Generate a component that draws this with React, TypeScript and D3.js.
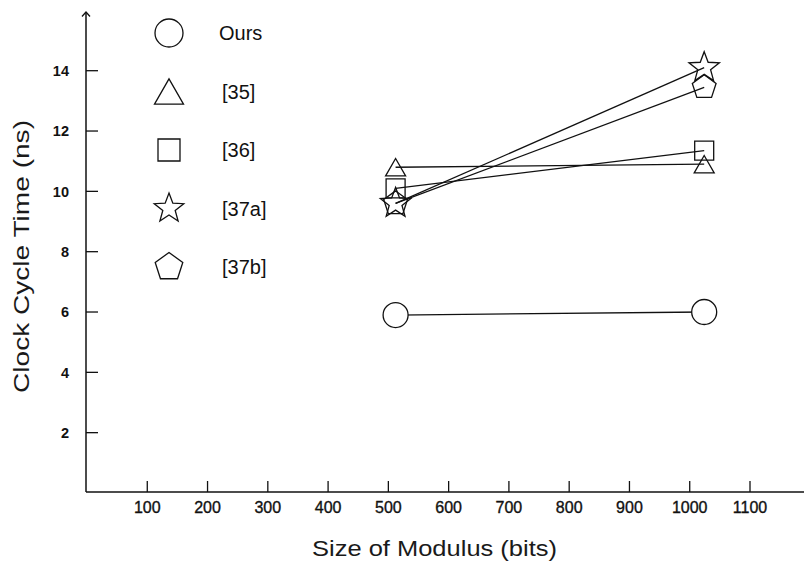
import * as d3 from "d3";
import { useEffect, useRef } from "react";

const xValues = [512, 1024];
const seriesNames = ["Ours", "[35]", "[36]", "[37a]", "[37b]"];
const oursValues = [5.9, 6.0];
const ref35Values = [10.8, 10.9];
const ref36Values = [10.1, 11.35];
const ref37aValues = [9.6, 14.1];
const ref37bValues = [9.6, 13.45];
const xTicks = [100, 200, 300, 400, 500, 600, 700, 800, 900, 1000, 1100];
const yTicks = [2, 4, 6, 8, 10, 12, 14];

const W = 804;
const H = 563;

type Shape = "circle" | "triangle" | "square" | "star" | "pentagon";

// outline path for each marker, centered at 0,0
function markerPath(shape: Shape, s: number): string {
  const p = d3.path();
  if (shape === "circle") {
    p.arc(0, 0, s / 2, 0, Math.PI * 2);
  } else if (shape === "triangle") {
    const h = s * 0.87;
    p.moveTo(0, -h / 2);
    p.lineTo(s / 2, h / 2);
    p.lineTo(-s / 2, h / 2);
    p.closePath();
  } else if (shape === "square") {
    p.rect(-s / 2, -s / 2, s, s);
  } else if (shape === "star") {
    const R = s / 2, r = R * 0.42;
    for (let i = 0; i < 10; i++) {
      const a = -Math.PI / 2 + (i * Math.PI) / 5;
      const rr = i % 2 === 0 ? R : r;
      if (i === 0) p.moveTo(rr * Math.cos(a), rr * Math.sin(a));
      else p.lineTo(rr * Math.cos(a), rr * Math.sin(a));
    }
    p.closePath();
  } else {
    const R = s / 2;
    for (let i = 0; i < 5; i++) {
      const a = -Math.PI / 2 + (i * 2 * Math.PI) / 5;
      if (i === 0) p.moveTo(R * Math.cos(a), R * Math.sin(a));
      else p.lineTo(R * Math.cos(a), R * Math.sin(a));
    }
    p.closePath();
  }
  return p.toString();
}

export default function App() {
  const ref = useRef<SVGSVGElement>(null);

  useEffect(() => {
    if (!ref.current) return;
    const svg = d3.select(ref.current);
    svg.selectAll("*").remove();

    const font = "'Liberation Sans', Arial, Helvetica, sans-serif";
    const ink = "#111";

    const x = d3.scaleLinear().domain([0, 1100]).range([87, 750]);
    const y = d3.scaleLinear().domain([0, 14]).range([493, 70.7]);
    const x0 = 86;
    const y0 = 492;

    svg.append("rect").attr("width", W).attr("height", H).attr("fill", "#fff");

    // Axes lines
    svg.append("line")
      .attr("x1", x0).attr("x2", x0).attr("y1", 12).attr("y2", y0)
      .attr("stroke", ink).attr("stroke-width", 1.5);
    svg.append("path")
      .attr("d", `M${x0 - 4},${16.5} L${x0},${12} L${x0 + 4},${16.5}`)
      .attr("fill", "none").attr("stroke", ink).attr("stroke-width", 1.3);
    svg.append("line")
      .attr("x1", x0).attr("x2", W).attr("y1", y0).attr("y2", y0)
      .attr("stroke", ink).attr("stroke-width", 1.5);

    // Y ticks
    const yg = svg.append("g");
    yTicks.forEach((t) => {
      yg.append("line")
        .attr("x1", x0).attr("x2", x0 + 12).attr("y1", y(t)).attr("y2", y(t))
        .attr("stroke", ink).attr("stroke-width", 1.3);
      yg.append("text")
        .attr("x", 69).attr("y", y(t)).attr("dy", "0.36em")
        .attr("text-anchor", "end")
        .attr("font-family", font).attr("font-size", 14.5).attr("font-weight", "bold")
        .attr("fill", ink)
        .text(t);
    });

    // X ticks
    const xg = svg.append("g");
    xTicks.forEach((t) => {
      xg.append("line")
        .attr("x1", x(t)).attr("x2", x(t)).attr("y1", y0).attr("y2", y0 - 11)
        .attr("stroke", ink).attr("stroke-width", 1.3);
      xg.append("text")
        .attr("x", x(t)).attr("y", 513)
        .attr("text-anchor", "middle")
        .attr("font-family", font).attr("font-size", 16)
        .attr("fill", ink).attr("stroke", ink).attr("stroke-width", 0.35)
        .text(t);
    });

    // Axis titles
    svg.append("text")
      .attr("x", 312).attr("y", 556)
      .attr("font-family", font).attr("font-size", 22)
      .attr("textLength", 245).attr("lengthAdjust", "spacingAndGlyphs")
      .attr("fill", "#1a1a1a")
      .text("Size of Modulus (bits)");
    svg.append("text")
      .attr("transform", "translate(29,393) rotate(-90)")
      .attr("x", 0).attr("y", 0)
      .attr("font-family", font).attr("font-size", 22)
      .attr("textLength", 273).attr("lengthAdjust", "spacingAndGlyphs")
      .attr("fill", "#1a1a1a")
      .text("Clock Cycle Time (ns)");

    const series: { name: string; values: number[]; shape: Shape; size: number; legendSize: number }[] = [
      { name: seriesNames[0], values: oursValues, shape: "circle", size: 25, legendSize: 28 },
      { name: seriesNames[1], values: ref35Values, shape: "triangle", size: 20, legendSize: 29 },
      { name: seriesNames[2], values: ref36Values, shape: "square", size: 19, legendSize: 22 },
      { name: seriesNames[3], values: ref37aValues, shape: "star", size: 32, legendSize: 31 },
      { name: seriesNames[4], values: ref37bValues, shape: "pentagon", size: 25, legendSize: 29 },
    ];

    const line = d3.line<number>()
      .x((_, i) => x(xValues[i]))
      .y((d) => y(d));

    // Lines
    series.forEach((s) => {
      svg.append("path")
        .datum(s.values)
        .attr("fill", "none")
        .attr("stroke", ink)
        .attr("stroke-width", 1.3)
        .attr("d", line);
    });

    // Markers
    series.forEach((s) => {
      svg.append("g")
        .selectAll("path")
        .data(s.values)
        .join("path")
        .attr("transform", (d, i) => `translate(${x(xValues[i])},${y(d)})`)
        .attr("d", markerPath(s.shape, s.size))
        .attr("fill", s.shape === "circle" ? "#fff" : "none")
        .attr("stroke", ink)
        .attr("stroke-width", 1.3);
    });

    // Legend
    const legend = svg.append("g");
    series.forEach((s, i) => {
      const ly = 33 + i * 58.5;
      legend.append("path")
        .attr("transform", `translate(169,${ly})`)
        .attr("d", markerPath(s.shape, s.legendSize))
        .attr("fill", "none")
        .attr("stroke", ink)
        .attr("stroke-width", 1.3);
      legend.append("text")
        .attr("x", i === 0 ? 219 : 222).attr("y", ly).attr("dy", "0.36em")
        .attr("font-family", font).attr("font-size", 20)
        .attr("fill", ink)
        .text(s.name);
    });
  }, []);

  return (
    <svg
      ref={ref}
      width={W}
      height={H}
      style={{ position: "absolute", left: 0, top: 0, display: "block" }}
    />
  );
}
